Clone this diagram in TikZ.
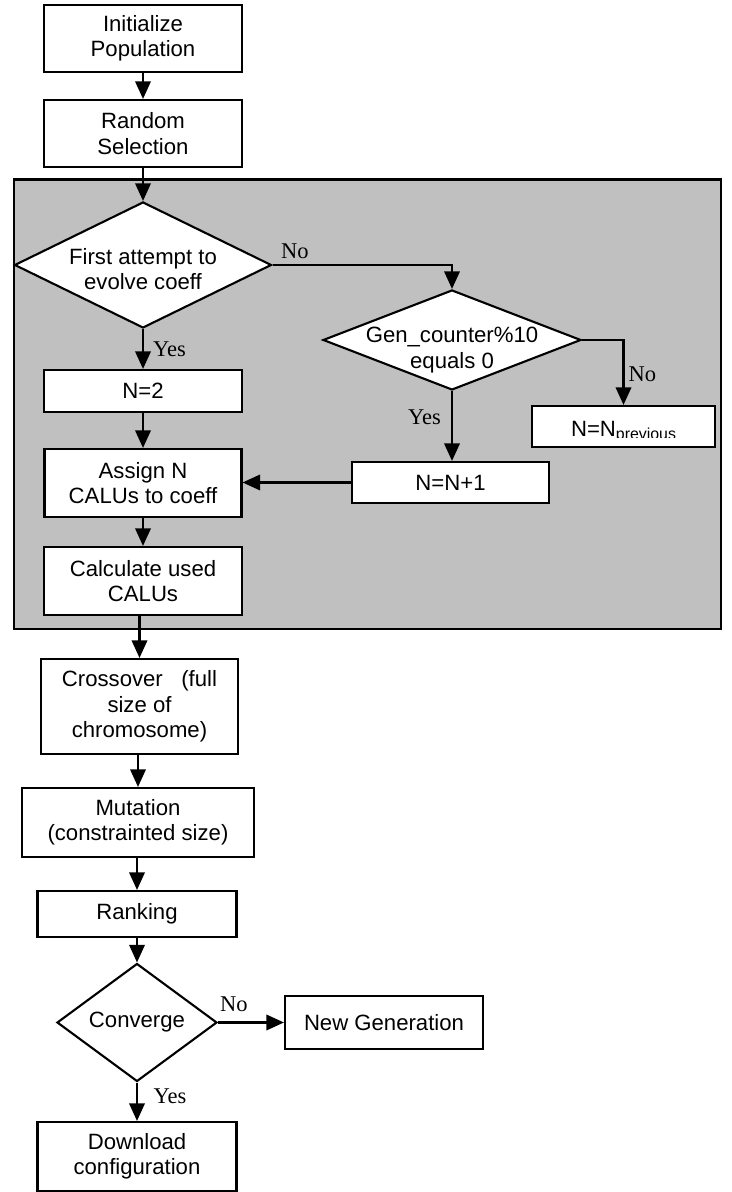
\documentclass[tikz,border=0pt]{standalone}
\usepackage{fontspec}
\setmainfont{Liberation Sans}
\newfontfamily\serifyn{Liberation Serif}
\usetikzlibrary{arrows.meta,positioning,shapes.geometric}
\definecolor{panelgray}{RGB}{192,192,192}
\newcommand{\boxfont}{\fontsize{15.75}{18}\selectfont}
\newcommand{\ynfont}{\serifyn\fontsize{16}{18}\selectfont}
\tikzset{
	box/.style={draw, fill=white, line width=1.5pt, align=center, inner sep=0pt, font=\boxfont},
	decision/.style={diamond, draw, fill=white, line width=1.5pt, inner sep=0pt},
	dtext/.style={align=center, inner sep=0pt, font=\boxfont},
	arr/.style={line width=1.5pt, -{Triangle[length=12.5pt,width=11pt]}},
	yesno/.style={inner sep=0pt, font=\ynfont},
}

\begin{document}
\begin{tikzpicture}
		%%%%% START %%%%%
		\useasboundingbox (0, 0) rectangle (18.275, 29.8);
		
		% grey panel round the coefficient steps
		\draw[fill=panelgray, line width=1.5pt] (0.35, 14.075) rectangle (18.025, 25.3125);
		
		\node[box, minimum width=4.95cm, minimum height=1.675cm] (init) at (3.575, 28.8375) {Initialize\\Population};
		\node[box, minimum width=4.95cm, minimum height=1.675cm] (rand) at (3.575, 26.4625) {Random\\Selection};
		
		\node[decision, minimum width=6.425cm, minimum height=3.15cm, label={[dtext, yshift=-0.1cm]center:First attempt to\\evolve coeff}] (first) at (3.575, 23.175) {};
		\node[decision, minimum width=6.45cm, minimum height=2.5cm, label={[dtext, yshift=-0.25cm]center:Gen\_counter\%10\\equals 0}] (gen) at (11.3, 21.3) {};
		
		\node[box, minimum width=4.95cm, minimum height=1.05cm] (n2) at (3.575, 20.025) {N=2};
		\node[box, minimum width=4.575cm, minimum height=1.025cm, path picture={
				% subscript is cut off at the baseline
				\clip (path picture bounding box.north west) rectangle ([yshift=0.24cm]path picture bounding box.south east);
				\node[anchor=base, inner sep=0pt, font=\boxfont] at ([yshift=0.25cm]path picture bounding box.south) {N=N\raisebox{-2pt}{\fontsize{11.3}{12}\selectfont previous}};
			}] (nprev) at (15.5875, 19.1375) {};
		\node[box, minimum width=4.925cm, minimum height=1.025cm] (ninc) at (11.2625, 17.7375) {N=N+1};
		\node[box, minimum width=4.925cm, minimum height=1.7cm] (assign) at (3.575, 17.725) {Assign N\\CALUs to coeff};
		\node[box, minimum width=4.95cm, minimum height=1.7cm] (calc) at (3.575, 15.275) {Calculate used\\CALUs};
		
		\node[box, minimum width=4.925cm, minimum height=2.375cm] (cross) at (3.4875, 12.1375) {Crossover\ \ \ (full\\size of\\chromosome)};
		\node[box, minimum width=5.8cm, minimum height=1.725cm] (mut) at (3.45, 9.2375) {Mutation\\(constrainted size)};
		\node[box, minimum width=4.975cm, minimum height=1.15cm] (rank) at (3.425, 6.95) {Ranking};
		\node[decision, minimum width=4cm, minimum height=2.95cm, label={[dtext]center:Converge}] (conv) at (3.425, 4.2375) {};
		\node[box, minimum width=4.95cm, minimum height=1.325cm] (newgen) at (9.6, 4.2375) {New Generation};
		\node[box, minimum width=4.975cm, minimum height=1.725cm] (down) at (3.425, 0.8875) {Download\\configuration};
		
		\draw[arr] (init) -- (rand);
		\draw[arr] (rand) -- (first);
		\draw[arr] (first) -- node[yesno, right=0.225cm] {Yes} (n2);
		\draw[arr] (first.east) -| node[yesno, pos=0.0625, above=0.125cm] {No} (gen.north);
		\draw[arr] (gen.east) -| node[yesno, pos=0.76, right=0.1cm] {No} (nprev.north);
		\draw[arr] (gen.south) -- node[yesno, pos=0.37, left=0.25cm] {Yes} (gen.south |- ninc.north);
		\draw[arr] (n2) -- (assign);
		\draw[arr] (ninc.west) -- (ninc.west -| assign.east);
		\draw[arr] (assign) -- (calc);
		
		\draw[arr] (calc.south -| cross.north) -- (cross.north);
		\draw[arr] (cross.south -| mut.north) -- (mut.north);
		\draw[arr] (mut.south -| rank.north) -- (rank.north);
		\draw[arr] (rank) -- (conv);
		\draw[arr] (conv) -- node[yesno, pos=0.24, above=0.24cm] {No} (newgen);
		\draw[arr] (conv) -- node[yesno, pos=0.36, right=0.39cm] {Yes} (down);
		%%%%% END %%%%%
\end{tikzpicture}
\end{document}
